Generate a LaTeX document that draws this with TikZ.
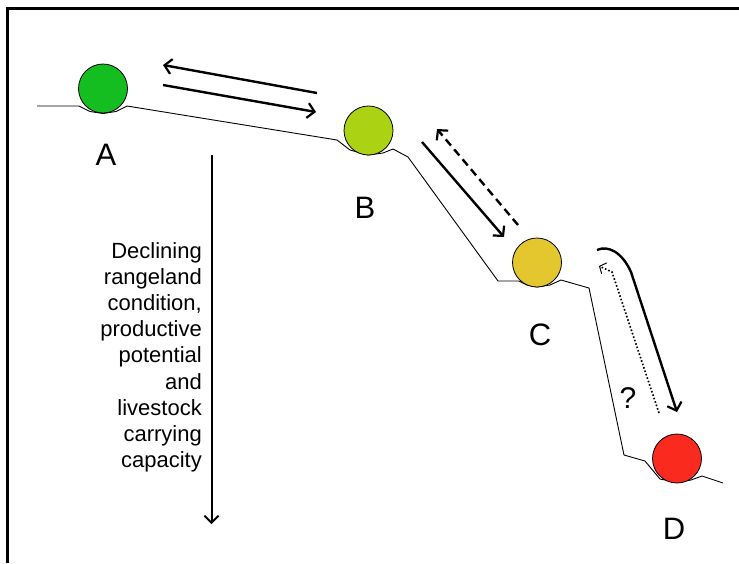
\documentclass[tikz,border=0pt]{standalone}
\usepackage{fontspec}
\setmainfont{Liberation Sans}
\usetikzlibrary{arrows.meta}
\definecolor{ballA}{RGB}{20,190,32}
\definecolor{ballB}{RGB}{172,210,20}
\definecolor{ballC}{RGB}{228,198,46}
\definecolor{ballD}{RGB}{250,42,30}
\begin{document}
\begin{tikzpicture}[x=1pt,y=-1pt,
  ball/.style={circle,draw=black,line width=0.8pt,minimum size=49pt,inner sep=0pt},
  lab/.style={font=\fontsize{31}{31}\selectfont,inner sep=0pt},
  terrain/.style={line width=0.9pt,line join=round},
  bigarrow/.style={line width=2.4pt,-{Straight Barb[length=7pt,width=15pt,line width=2.2pt]}},
  dotarrow/.style={line width=1.6pt,dotted,-{Straight Barb[length=5pt,width=12pt,line width=1pt]}}]
\useasboundingbox (0,0) rectangle (739,563);
% frame
\draw[line width=2.2pt] (7.5,563) -- (7.5,8.5) -- (739,8.5);
% terrain
\draw[terrain] (37,106) -- (79,106) -- (90,111.5) -- (103,113.5) -- (116,111.5) -- (127,106)
  -- (337,140) -- (350,150) -- (368,155) -- (383,153) -- (393,149) -- (408,157)
  -- (498,281) -- (519,281) -- (527,285) -- (537,287) -- (550,285) -- (561,280)
  -- (589,288) -- (624,455) -- (645,461) -- (660,479) -- (677,482.5) -- (691,480) -- (702,476) -- (723,483);
% balls
\node[ball,fill=ballA] (A) at (103,88.5) {};
\node[ball,fill=ballB] (B) at (368.5,130.5) {};
\node[ball,fill=ballC] (C) at (537,262.5) {};
\node[ball,fill=ballD] (D) at (677,458.5) {};
% labels
\node[lab] (lA) at (106,155) {A};
\node[lab] (lB) at (365,208) {B};
\node[lab] (lC) at (540,335) {C};
\node[lab] (lD) at (674,529) {D};
\node[font=\fontsize{30}{30}\selectfont,inner sep=0pt] (q) at (628,398) {?};
% A <-> B arrows
\coordinate (ab1s) at (317,93);
\coordinate (ab1e) at (163,65);
\coordinate (ab2s) at (163,85);
\coordinate (ab2e) at (316,112);
\draw[bigarrow] (ab1s) -- (ab1e);
\draw[bigarrow] (ab2s) -- (ab2e);
% B <-> C arrows
\coordinate (bc1s) at (422,142);
\coordinate (bc1e) at (504,237);
\coordinate (bc2s) at (518,225);
\coordinate (bc2e) at (437,129);
\draw[bigarrow] (bc1s) -- (bc1e);
\draw[bigarrow,dash pattern=on 8pt off 5pt] (bc2s) -- (bc2e);
% C -> D arrows
\coordinate (cd1s) at (597,250);
\coordinate (cd1e) at (677,412);
\coordinate (cd2s) at (659,413);
\coordinate (cd2e) at (599,266);
\draw[bigarrow] (cd1s) .. controls (608,245) and (622,252) .. (631,272) -- (cd1e);
\draw[dotarrow] (cd2s) -- (612,272) -- (cd2e);
% vertical arrow and text
\coordinate (vs) at (211.5,155);
\coordinate (ve) at (211.5,524);
\draw[line width=2pt,-{Straight Barb[length=7pt,width=14pt,line width=1.8pt]}] (vs) -- (ve);
\node[align=right,anchor=north east,inner sep=0pt,font=\fontsize{22}{26.2}\selectfont] (txt) at (202,242)
  {Declining\\rangeland\\condition,\\productive\\potential\\and\\livestock\\carrying\\capacity};
\end{tikzpicture}
\end{document}
